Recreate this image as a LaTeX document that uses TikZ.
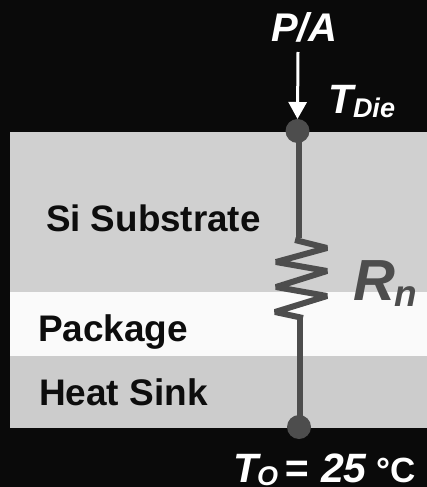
\documentclass[tikz,border=0pt]{standalone}
\usepackage{fontspec}
\setmainfont{Liberation Sans}
\usetikzlibrary{arrows.meta}
\newcommand{\fsz}[1]{\fontsize{#1}{#1}\selectfont\bfseries}
\definecolor{bgdark}{HTML}{0A0A0A}
\definecolor{bandgray}{HTML}{D0D0D0}
\definecolor{bandwhite}{HTML}{FAFAFA}
\definecolor{bandsink}{HTML}{CCCCCC}
\definecolor{wirecol}{HTML}{4D4D4D}
\definecolor{inktext}{HTML}{0D0D0D}
\tikzset{
  band/.style={fill=#1,draw=none},
  lbl/.style={inner sep=0pt,outer sep=0pt,anchor=base west,text=inktext},
  wlbl/.style={inner sep=0pt,outer sep=0pt,anchor=base west,text=white},
  glbl/.style={inner sep=0pt,outer sep=0pt,anchor=base west,text=wirecol},
  terminal/.style={circle,fill=wirecol,draw=none,minimum size=24pt,inner sep=0pt,outer sep=0pt},
  wire/.style={draw=wirecol,line width=6pt,line join=bevel},
  flow/.style={draw=white,line width=3pt,-{Triangle[length=17pt,width=18pt]}}
}
\begin{document}
\begin{tikzpicture}[x=1pt,y=-1pt]
\useasboundingbox (0,0) rectangle (427,487);
\fill[bgdark] (0,0) rectangle (427,487);
\fill[band=bandgray] (10,132) rectangle (427,292);
\fill[band=bandwhite] (10,292) rectangle (427,356);
\fill[band=bandsink] (10,356) rectangle (427,428);
\node[lbl] (si) at (46,231) {\fsz{36.8}Si Substrate};
\node[lbl] (pk) at (38,341) {\fsz{37}Package};
\node[lbl] (hs) at (39,405) {\fsz{37}Heat Sink};
\node[wlbl] (pa) at (271,42) {\fsz{40}\itshape P/A};
\node[wlbl] (td) at (328,113) {\fsz{41}\itshape T};
\node[wlbl] (tds) at (353,117) {\fsz{27}\itshape Die};
\node[glbl] (rn) at (353,300) {\fsz{58}\itshape R};
\node[glbl] (rns) at (394,306) {\fsz{37}\itshape n};
\node[wlbl] (to) at (233,482) {\fsz{41}\itshape T};
\node[wlbl] (tos) at (257,485) {\fsz{27}\itshape O};
\node[wlbl] (eq) at (284,482) {\fsz{41}\itshape =};
\node[wlbl] (tf) at (321,482) {\fsz{41}\itshape 25};
\node[wlbl] (dc) at (376,482) {\fsz{35}°C};
\node[terminal] (top) at (297.5,131) {};
\node[terminal] (bot) at (299,427) {};
\coordinate (wt) at (299,131);
\coordinate (za) at (299,238);
\coordinate (zb) at (300,318);
\coordinate (wb) at (300,427);
\coordinate (src) at (298,52);
\draw[wire] (wt) -- (za);
\draw[wire] (295,240) -- (327,248) -- (276,262) -- (327,271) -- (276,287) -- (327,296) -- (275,312) -- (303,318);
\draw[wire] (zb) -- (wb);
\draw[flow] (src) -- (top.north);
\end{tikzpicture}
\end{document}
